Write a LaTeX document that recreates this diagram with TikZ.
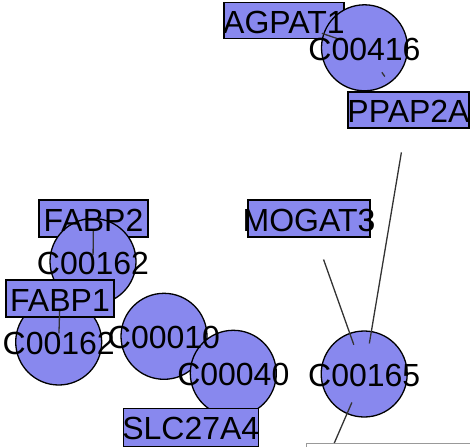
\documentclass[tikz,border=0pt]{standalone}
\usepackage{fontspec}
\setmainfont{Liberation Sans}
\definecolor{nodefill}{RGB}{136,136,238}

\begin{document}
\begin{tikzpicture}[x=1pt,y=-1pt,
    gene/.style={draw,fill=nodefill,line width=1.3pt,minimum height=36pt,inner sep=0pt},
    cpd/.style={circle,draw,fill=nodefill,line width=1.3pt,minimum size=86pt,inner sep=0pt},
    link/.style={draw=black!80,line width=1.3pt},
    tag/.style={font=\fontsize{32}{32}\selectfont,inner sep=0pt,yshift=-1.5pt}]
            \useasboundingbox (0,0) rectangle (470,446);
            \clip (0,0) rectangle (470,446);
            \node [gene, minimum width=120pt] (agpat) at (284,20.5) {};
            \node [cpd] (c416) at (364.5,47.8) {};
            \node [gene, minimum width=121pt] (ppap) at (408.5,110) {};
            \node [gene, minimum width=122pt, minimum height=37pt] (mogat) at (309,218.5) {};
            \node [gene, minimum width=109pt, minimum height=37pt] (fabp2) at (93.5,218.5) {};
            \node [cpd] (c162a) at (93,261.5) {};
            \node [cpd] (c162b) at (58.7,342) {};
            \node [gene, minimum width=108pt, minimum height=37pt] (fabp1) at (60,298.5) {};
            \node [cpd] (c10) at (164,336.3) {};
            \node [cpd] (c40) at (233.3,373.3) {};
            \node [gene, minimum width=135pt, minimum height=38pt] (slc) at (190.8,427.3) {};
            \node [cpd] (c165) at (364.2,374) {};
            \node [draw=black!40, fill=white, line width=1pt, minimum width=200pt,
                minimum height=40pt, anchor=north west] (cut) at (306,443) {};
            \coordinate (cutend) at (334.3,443);
            \draw [link, shorten <=40pt, shorten >=24pt] (agpat.center) -- (c416.center);
            \draw [link, shorten <=30pt, shorten >=41pt] (c416.center) -- (ppap.center);
            \draw [link, shorten <=43pt, shorten >=31pt] (ppap.center) -- (c165.center);
            \draw [link, shorten <=43.5pt, shorten >=31pt] (mogat.center) -- (c165.center);
            \draw [link, shorten <=11.5pt, shorten >=6.5pt] (fabp2.center) -- (c162a.center);
            \draw [link, shorten <=11.5pt, shorten >=8.7pt] (fabp1.center) -- (c162b.center);
            \draw [link, shorten <=31pt] (c165.center) -- (cutend);
            \foreach \n/\t in {agpat/AGPAT1, c416/C00416, ppap/PPAP2A, mogat/MOGAT3,
                fabp2/FABP2, c162a/C00162, c162b/C00162, fabp1/FABP1, c10/C00010,
                c40/C00040, slc/SLC27A4, c165/C00165}
                \node [tag] (\n-t) at (\n) {\t};
        \end{tikzpicture}
\end{document}
